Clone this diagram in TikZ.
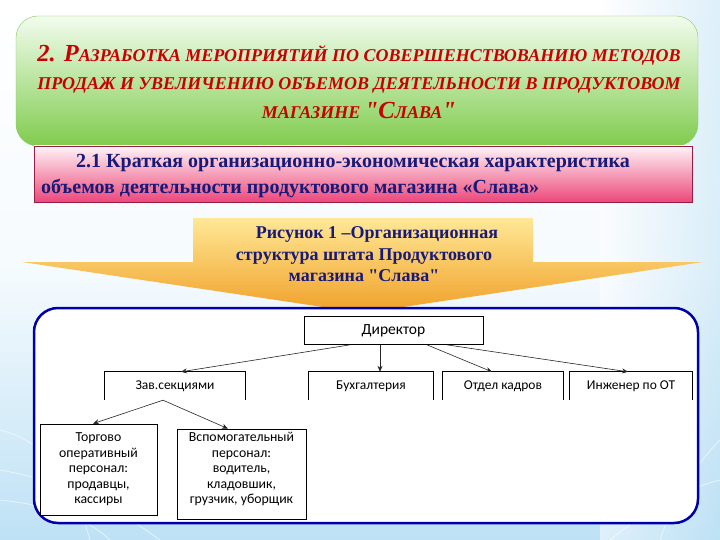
\documentclass[tikz,border=0pt]{standalone}
\usepackage{fontspec}
\setmainfont{Liberation Serif}
\newfontfamily\chartfont{Carlito}
\usetikzlibrary{arrows.meta}
\definecolor{headred}{RGB}{200,0,0}
\definecolor{navytext}{RGB}{25,25,120}
\definecolor{greentop}{RGB}{242,252,238}
\definecolor{greenbot}{RGB}{128,204,78}
\definecolor{greenline}{RGB}{140,200,100}
\definecolor{pinktop}{RGB}{255,244,248}
\definecolor{pinkbot}{RGB}{236,72,122}
\definecolor{pinkline}{RGB}{150,30,70}
\definecolor{orangetop}{RGB}{255,232,150}
\definecolor{orangebot}{RGB}{240,160,40}
\definecolor{frameblue}{RGB}{0,0,170}
\definecolor{bgblue}{RGB}{190,225,245}
\newcommand\myBigCap[1]{{\fontsize{24.5}{28.5}\selectfont #1}}
\tikzset{
  orgbox/.style={draw=black, line width=0.7pt, fill=white, font=\chartfont\fontsize{13.8}{15.5}\selectfont, align=center, inner sep=2pt},
  opentext/.style={font=\chartfont\fontsize{13.5}{15}\selectfont, inner sep=0pt},
  openside/.style={draw=black, line width=0.7pt},
  arr/.style={draw=black!85, line width=0.6pt, -{Stealth[length=6pt,width=5pt]}},
  bgline/.style={draw=white, line width=0.8pt, opacity=0.6}
}
\begin{document}
\begin{tikzpicture}[x=1pt,y=-1pt]
\useasboundingbox (0,0) rectangle (720,540);
% background
\shade[top color=white, bottom color=bgblue, middle color=white!85!bgblue] (0,0) rectangle (720,540);
\shade[left color=white, right color=bgblue, opacity=0.5] (600,0) rectangle (720,540);
\draw[bgline] (0,470) .. controls (60,480) and (120,510) .. (160,540);
\draw[bgline] (0,500) .. controls (50,505) and (90,520) .. (110,540);
\draw[bgline] (0,430) .. controls (40,440) and (70,470) .. (90,540);
\draw[bgline] (720,480) .. controls (680,490) and (640,515) .. (610,540);
\draw[bgline] (720,440) .. controls (690,470) and (670,510) .. (660,540);
% green title box
\shade[top color=greentop, bottom color=greenbot, draw=greenline, rounded corners=22] (16,16) rectangle (698,146);
\node[font=\bfseries\itshape\fontsize{18}{28.5}\selectfont, text=headred, align=center, inner sep=0pt] (title) at (359,82) {%
  \myBigCap{2. Р}АЗРАБОТКА МЕРОПРИЯТИЙ ПО СОВЕРШЕНСТВОВАНИЮ МЕТОДОВ\\
  ПРОДАЖ И УВЕЛИЧЕНИЮ ОБЪЕМОВ ДЕЯТЕЛЬНОСТИ В ПРОДУКТОВОМ\\
  МАГАЗИНЕ \myBigCap{\textquotedbl С}ЛАВА\myBigCap{\textquotedbl}};
% pink subtitle box
\shade[top color=pinktop, bottom color=pinkbot, draw=pinkline, line width=0.5pt] (34,146) rectangle (692,202);
\node[font=\bfseries\fontsize{20}{26}\selectfont, text=navytext, align=left, inner sep=0pt, anchor=west] (sub) at (41,176) {%
  \hspace*{35pt}2.1 Краткая организационно-экономическая характеристика\\
  объемов деятельности продуктового магазина «Слава»};
% orange arrow
\shade[top color=orangetop, bottom color=orangebot] (193,218) -- (533,218) -- (533,262) -- (703,262) -- (363,313) -- (22,262) -- (193,262) -- cycle;
\node[font=\bfseries\fontsize{18}{21.5}\selectfont, text=navytext, align=center, inner sep=0pt] (cap) at (364,254.5) {%
  \hspace*{26pt}Рисунок 1 –Организационная\\
  структура штата Продуктового\\
  магазина \textquotedbl Слава\textquotedbl};
% blue frame
\draw[frameblue, line width=2.5pt, fill=white, rounded corners=24] (34,308) rectangle (698,523);
% org chart
\node[orgbox, font=\chartfont\fontsize{15.5}{17}\selectfont, minimum width=179pt, minimum height=28pt] (dir) at (393.5,330.5) {Директор};
\node[opentext, minimum width=140pt, minimum height=28pt] (zav) at (175,386) {Зав.секциями};
\node[opentext, minimum width=124pt, minimum height=28pt] (buh) at (371,386) {Бухгалтерия};
\node[opentext, minimum width=120pt, minimum height=28pt] (otd) at (503,386) {Отдел кадров};
\node[opentext, minimum width=122pt, minimum height=28pt] (ing) at (631,386) {Инженер по ОТ};
\foreach \n in {zav,buh,otd,ing}{
  \draw[openside] (\n.south west) -- (\n.north west) -- (\n.north east) -- (\n.south east);
}
\node[orgbox, minimum width=117pt, minimum height=91pt] (torg) at (98.5,469.5) {Торгово\\оперативный\\персонал:\\продавцы,\\кассиры};
\node[orgbox, minimum width=129pt, minimum height=90pt, text depth=12pt] (vsp) at (241.5,474) {Вспомогательный\\персонал:\\водитель,\\кладовшик,\\грузчик, уборщик};
% connectors
\draw[arr] ([xshift=-43.5pt]dir.south) -- ([xshift=6pt]zav.north);
\draw[arr] ([xshift=-13.5pt]dir.south) -- ([xshift=-13.5pt]dir.south |- buh.north);
\draw[arr] ([xshift=33.5pt]dir.south) -- ([xshift=-11pt]otd.north);
\draw[arr] ([xshift=53.5pt]dir.south) -- ([xshift=-3pt]ing.north);
\draw[arr] ([xshift=-12pt]zav.south) -- ([xshift=-5.5pt]torg.north);
\draw[arr] ([xshift=-12pt]zav.south) -- ([xshift=-13.5pt]vsp.north);
\end{tikzpicture}
\end{document}
